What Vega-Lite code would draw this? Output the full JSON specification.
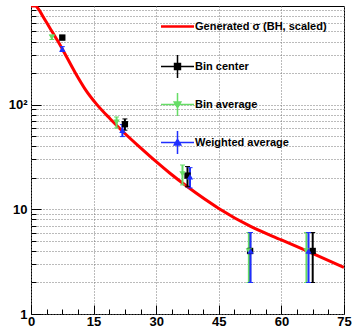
{
  "$schema": "https://vega.github.io/schema/vega-lite/v6.json",
  "width": 313,
  "height": 308,
  "autosize": {"type": "none"},
  "padding": {"left": 31, "top": 6, "right": 9, "bottom": 15},
  "background": "white",
  "config": {
    "view": {"stroke": "black", "strokeWidth": 1},
    "font": "Liberation Sans"
  },
  "resolve": {"axis": {"x": "independent", "y": "independent"}},
  "datasets": {
    "curve": [
      {"x": 0, "y": 875},
      {"x": 1.0, "y": 875},
      {"x": 1.7, "y": 830},
      {"x": 2.9, "y": 690},
      {"x": 4.1, "y": 575},
      {"x": 5.3, "y": 480},
      {"x": 6.5, "y": 400},
      {"x": 7.5, "y": 340},
      {"x": 10.5, "y": 205},
      {"x": 13, "y": 140},
      {"x": 15.8, "y": 100},
      {"x": 19, "y": 73},
      {"x": 22.5, "y": 53},
      {"x": 26, "y": 39.5},
      {"x": 30, "y": 28.5},
      {"x": 33.3, "y": 22.1},
      {"x": 37.5, "y": 16.4},
      {"x": 45, "y": 10.2},
      {"x": 52.5, "y": 6.9},
      {"x": 60, "y": 5.1},
      {"x": 66.5, "y": 3.94},
      {"x": 75, "y": 2.79}
    ],
    "pts": [
      {"series": "Bin center", "x": 7.5, "y": 437, "lo": 416, "hi": 458},
      {"series": "Bin center", "x": 22.5, "y": 65, "lo": 57, "hi": 73},
      {"series": "Bin center", "x": 37.5, "y": 21, "lo": 16.4, "hi": 25.6},
      {"series": "Bin center", "x": 52.5, "y": 4, "lo": 2, "hi": 6},
      {"series": "Bin center", "x": 67.5, "y": 4, "lo": 2, "hi": 6},
      {"series": "Bin average", "x": 5.0, "y": 440, "lo": 419, "hi": 461},
      {"series": "Bin average", "x": 20.5, "y": 68, "lo": 59.8, "hi": 76.2},
      {"series": "Bin average", "x": 36.3, "y": 21.8, "lo": 17.1, "hi": 26.5},
      {"series": "Bin average", "x": 52.2, "y": 4, "lo": 2, "hi": 6},
      {"series": "Bin average", "x": 66.0, "y": 4, "lo": 2, "hi": 6},
      {"series": "Weighted average", "x": 7.5, "y": 340, "lo": 322, "hi": 358},
      {"series": "Weighted average", "x": 21.9, "y": 57, "lo": 49.5, "hi": 64.5},
      {"series": "Weighted average", "x": 38.1, "y": 20.5, "lo": 16, "hi": 25},
      {"series": "Weighted average", "x": 52.6, "y": 4, "lo": 2, "hi": 6},
      {"series": "Weighted average", "x": 66.5, "y": 4, "lo": 2, "hi": 6}
    ]
  },
  "layer": [
    {
      "data": {"name": "curve"},
      "mark": {"type": "line", "color": "#ff0000", "strokeWidth": 3, "clip": true, "interpolate": "monotone"},
      "encoding": {
        "x": {
          "field": "x", "type": "quantitative",
          "scale": {"domain": [0, 75], "nice": false, "zero": false},
          "axis": {
            "orient": "bottom",
            "title": null,
            "domain": false,
            "values": [0, 15, 30, 45, 60, 75],
            "format": "d",
            "labelFont": "Liberation Sans",
            "labelFontWeight": "bold",
            "labelFontSize": 13,
            "labelColor": "black",
            "labelFlush": false,
            "labelOverlap": false,
            "labelPadding": 10,
            "tickColor": "black",
            "tickWidth": 1,
            "tickSize": -9,
            "grid": true,
            "gridColor": "#777777",
            "gridDash": [1, 2],
            "gridWidth": 1
          }
        },
        "y": {
          "field": "y", "type": "quantitative",
          "scale": {"type": "log", "domain": [1, 875], "nice": false},
          "axis": {
            "orient": "left",
            "title": null,
            "domain": false,
            "values": [1, 10, 100],
            "labelExpr": "datum.value == 1 ? '1' : datum.value == 10 ? '10' : '10²'",
            "labelFont": "Liberation Sans",
            "labelFontWeight": "bold",
            "labelFontSize": 13,
            "labelColor": "black",
            "labelOverlap": false,
            "labelPadding": 14,
            "tickColor": "black",
            "tickWidth": 1,
            "tickSize": -10,
            "grid": true,
            "gridColor": "#777777",
            "gridDash": [1, 2],
            "gridWidth": 1
          }
        }
      }
    },
    {
      "data": {"name": "pts"},
      "mark": {"type": "rule", "strokeWidth": 2, "clip": true},
      "encoding": {
        "x": {
          "field": "x", "type": "quantitative",
          "axis": {
            "orient": "bottom",
            "title": null,
            "domain": false,
            "values": [3.75, 7.5, 11.25, 18.75, 22.5, 26.25, 33.75, 37.5, 41.25, 48.75, 52.5, 56.25, 63.75, 67.5, 71.25],
            "labels": false,
            "tickColor": "black",
            "tickWidth": 1,
            "tickSize": -5,
            "grid": false
          }
        },
        "y": {
          "field": "lo", "type": "quantitative",
          "axis": {
            "orient": "left",
            "title": null,
            "domain": false,
            "values": [2, 3, 4, 5, 6, 7, 8, 9, 20, 30, 40, 50, 60, 70, 80, 90, 200, 300, 400, 500, 600, 700, 800],
            "labels": false,
            "tickColor": "black",
            "tickWidth": 1,
            "tickSize": -5,
            "grid": true,
            "gridColor": "#777777",
            "gridDash": [1, 2],
            "gridWidth": 1
          }
        },
        "y2": {"field": "hi"},
        "stroke": {
          "field": "series", "type": "nominal",
          "scale": {"domain": ["Bin center", "Bin average", "Weighted average"], "range": ["#000000", "#66dd66", "#1f2fff"]},
          "legend": null
        }
      }
    },
    {
      "data": {"name": "pts"},
      "mark": {"type": "tick", "orient": "horizontal", "size": 5, "thickness": 1, "opacity": 1},
      "encoding": {
        "x": {"field": "x", "type": "quantitative", "axis": null},
        "y": {"field": "lo", "type": "quantitative", "axis": null},
        "fill": {
          "field": "series", "type": "nominal",
          "scale": {"domain": ["Bin center", "Bin average", "Weighted average"], "range": ["#000000", "#66dd66", "#1f2fff"]},
          "legend": null
        }
      }
    },
    {
      "data": {"name": "pts"},
      "mark": {"type": "tick", "orient": "horizontal", "size": 5, "thickness": 1, "opacity": 1},
      "encoding": {
        "x": {"field": "x", "type": "quantitative", "axis": null},
        "y": {"field": "hi", "type": "quantitative", "axis": null},
        "fill": {"field": "series", "type": "nominal", "legend": null}
      }
    },
    {
      "data": {"name": "pts"},
      "mark": {"type": "point", "filled": true, "opacity": 1, "size": 40},
      "encoding": {
        "x": {"field": "x", "type": "quantitative", "axis": null},
        "y": {"field": "y", "type": "quantitative", "axis": null},
        "shape": {
          "field": "series", "type": "nominal",
          "scale": {"domain": ["Bin center", "Bin average", "Weighted average"], "range": ["square", "triangle-down", "triangle-up"]},
          "legend": null
        },
        "color": {
          "field": "series", "type": "nominal",
          "scale": {"domain": ["Generated σ (BH, scaled)", "Bin center", "Bin average", "Weighted average"], "range": ["#ff0000", "#000000", "#66dd66", "#1f2fff"]},
          "legend": {
            "orient": "none",
            "legendX": 141,
            "legendY": 15,
            "title": null,
            "padding": 0,
            "symbolSize": 1089,
            "symbolStrokeWidth": 1.5,
            "symbolOpacity": 1,
            "labelFont": "Liberation Sans",
            "labelFontWeight": "bold",
            "labelFontSize": 11,
            "labelColor": "black",
            "labelOffset": 12,
            "labelLimit": 220,
            "rowPadding": 7,
            "encode": {
              "symbols": {
                "update": {
                  "shape": {"signal": "datum.value === 'Bin center' ? 'M-1,0H1M0,-0.7V0.7M-0.18,-0.18H0.18V0.18H-0.18Z' : datum.value === 'Bin average' ? 'M-1,0H1M0,-0.7V0.7M-0.2,-0.15H0.2L0,0.2Z' : datum.value === 'Weighted average' ? 'M-1,0H1M0,-0.7V0.7M-0.2,0.15H0.2L0,-0.2Z' : 'M0,-0.7M0,0.7M-1,0H1'"},
                  "stroke": {"scale": "color", "field": "value"},
                  "fill": {"scale": "color", "field": "value"},
                  "strokeWidth": {"signal": "datum.value === 'Bin center' || datum.value === 'Bin average' || datum.value === 'Weighted average' ? 1.5 : 2.5"},
                  "opacity": {"value": 1}
                }
              }
            }
          }
        }
      }
    }
  ]
}
